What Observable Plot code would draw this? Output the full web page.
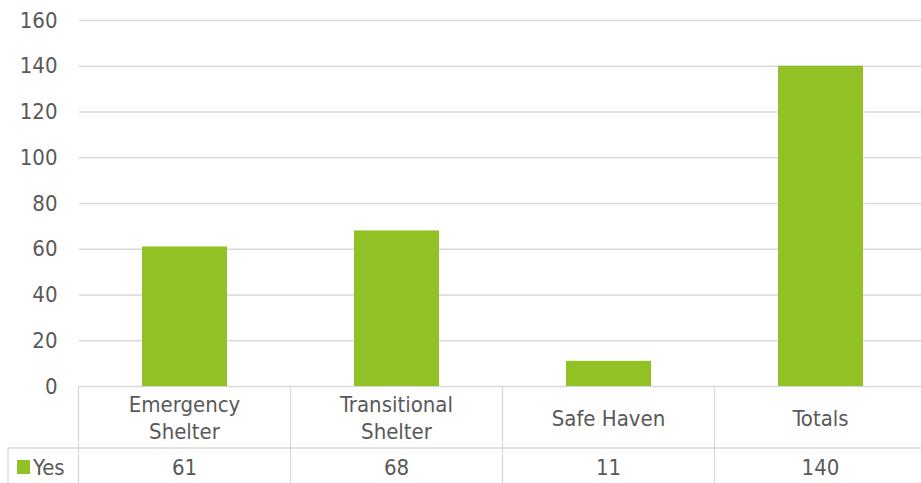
<!DOCTYPE html>
<html>
<head>
<meta charset="utf-8">
<script src="https://cdn.jsdelivr.net/npm/d3@7"></script>
<script src="https://cdn.jsdelivr.net/npm/@observablehq/plot@0.6"></script>
<style>
  html, body { margin: 0; padding: 0; background: #fff; }
  svg { display: block; }
</style>
</head>
<body>
<div id="chart"></div>
<script>
const categories = ["Emergency\nShelter", "Transitional\nShelter", "Safe Haven", "Totals"];
const seriesName = "Yes";
const values = [61, 68, 11, 140];
const yTicks = [0, 20, 40, 60, 80, 100, 120, 140, 160];

const data = categories.map((c, i) => ({cat: c, value: values[i]}));

const W = 921, H = 483;
const mLeft = 79, mTop = 20, mBottom = 97, mRight = 0;
const grey = "#d9d9d9", text = "#595959", green = "#92c125";
const font = "'DejaVu Sans Condensed', 'DejaVu Sans', sans-serif";
const fs = 22;

const plot = Plot.plot({
  width: W,
  height: H,
  marginLeft: mLeft,
  marginRight: mRight,
  marginTop: mTop,
  marginBottom: mBottom,
  style: {fontFamily: font, fontSize: fs + "px", color: text, background: "#fff", fontStretch: "condensed"},
  x: {domain: categories, range: [mLeft, 927], paddingInner: 0.598, paddingOuter: 0.299, axis: null},
  y: {domain: [0, 160], ticks: yTicks, label: null, tickSize: 0, tickPadding: 22},
  marks: [
    Plot.gridY(yTicks, {stroke: grey, strokeOpacity: 1, strokeWidth: 1.3}),
    Plot.barY(data, {x: "cat", y: "value", fill: green}),
    Plot.axisY(yTicks, {tickSize: 0, tickPadding: 22, fontSize: fs, fill: text, label: null})
  ]
});

// Data table beneath the chart, positioned with the plot's own x scale
const svg = d3.select(plot);
const xs = plot.scale("x");
const ys = plot.scale("y");
const step = xs.step;
const bw = xs.bandwidth;
const y0 = ys.apply(0);
const rowLine = y0 + 62;
const left = 8;
const right = W;

const g = svg.append("g").attr("font-family", font).attr("font-size", fs)
  .attr("font-stretch", "condensed").attr("fill", text);

g.append("line").attr("x1", left).attr("x2", right).attr("y1", rowLine).attr("y2", rowLine)
  .attr("stroke", grey).attr("stroke-width", 1.3);
g.append("line").attr("x1", left).attr("x2", left).attr("y1", rowLine).attr("y2", H)
  .attr("stroke", grey).attr("stroke-width", 1.3);

categories.forEach((c, i) => {
  const cx = xs.apply(c) + bw / 2;
  const bx = cx - step / 2;
  g.append("line").attr("x1", bx).attr("x2", bx).attr("y1", y0).attr("y2", H)
    .attr("stroke", grey).attr("stroke-width", 1.3);
  const lines = c.split("\n");
  const mid = y0 + 32;
  lines.forEach((ln, k) => {
    const yy = mid + (k - (lines.length - 1) / 2) * 27;
    g.append("text").attr("x", cx).attr("y", yy).attr("text-anchor", "middle")
      .attr("dominant-baseline", "central").text(ln);
  });
  g.append("text").attr("x", cx).attr("y", rowLine + 19).attr("text-anchor", "middle")
    .attr("dominant-baseline", "central").text(values[i]);
});

g.append("rect").attr("x", 17).attr("y", rowLine + 12).attr("width", 13).attr("height", 14).attr("fill", green);
g.append("text").attr("x", 33).attr("y", rowLine + 19).attr("text-anchor", "start")
  .attr("dominant-baseline", "central").text(seriesName);

document.getElementById("chart").appendChild(plot);
</script>
</body>
</html>
